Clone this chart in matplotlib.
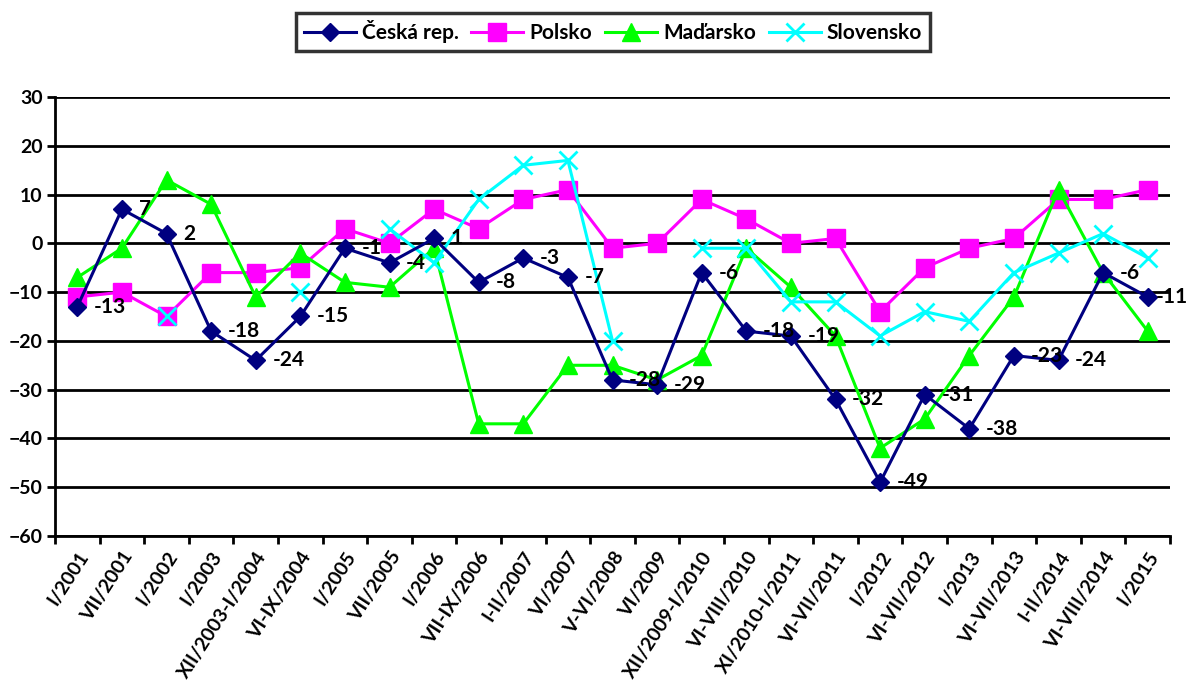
import numpy as np
import matplotlib
matplotlib.use("Agg")
import matplotlib.pyplot as plt
from matplotlib.ticker import FixedLocator

plt.rcParams['font.family'] = ['Lato', 'DejaVu Sans']

categories = ["I/2001", "VII/2001", "I/2002", "I/2003", "XII/2003-I/2004", "VI-IX/2004",
              "I/2005", "VII/2005", "I/2006", "VII-IX/2006", "I-II/2007", "VI/2007",
              "V-VI/2008", "VI/2009", "XII/2009-I/2010", "VI-VIII/2010", "XI/2010-I/2011",
              "VI-VII/2011", "I/2012", "VI-VII/2012", "I/2013", "VI-VII/2013",
              "I-II/2014", "VI-VIII/2014", "I/2015"]

cz = [-13, 7, 2, -18, -24, -15, -1, -4, 1, -8, -3, -7, -28, -29, -6, -18, -19,
      -32, -49, -31, -38, -23, -24, -6, -11]
pl = [-11, -10, -15, -6, -6, -5, 3, 0, 7, 3, 9, 11, -1, 0, 9, 5, 0,
      1, -14, -5, -1, 1, 9, 9, 11]
hu = [-7, -1, 13, 8, -11, -2, -8, -9, -1, -37, -37, -25, -25, -28, -23, -1, -9,
      -19, -42, -36, -23, -11, 11, -6, -18]
sk = [None, None, -15, None, None, -10, None, 3, -4, 9, 16, 17, -20, None, -1, -1, -12,
      -12, -19, -14, -16, -6, -2, 2, -3]

def arr(v):
    return np.array([np.nan if x is None else x for x in v], dtype=float)

fig = plt.figure(figsize=(11.9, 6.86), dpi=100)
ax = fig.add_axes([55/1190, 1 - 536/686, (1170 - 55)/1190, (536 - 97)/686])

x = np.arange(len(categories))
lw = 2.2
ax.plot(x, arr(cz), color='#000080', lw=lw, marker='D', ms=9.5, label='Česká rep.', zorder=6)
ax.plot(x, arr(pl), color='#FF00FF', lw=lw, marker='s', ms=12.5, label='Polsko', zorder=3)
ax.plot(x, arr(hu), color='#00FF00', lw=lw, marker='^', ms=13, label='Maďarsko', zorder=4)
ax.plot(x, arr(sk), color='#00FFFF', lw=lw, marker='x', ms=12.5, mew=2, label='Slovensko', zorder=5)

n = len(cz)
for i, (xi, v) in enumerate(zip(x, cz)):
    dx = 6 if i == n - 1 else 12
    ax.annotate(str(v), (xi, v), xytext=(dx, 0), textcoords='offset points',
                ha='left', va='center', fontsize=15, fontweight='bold', color='black',
                zorder=7, annotation_clip=False)

ax.set_xlim(-0.5, len(categories) - 0.5)
ax.set_ylim(-60, 30)
ax.set_yticks(np.arange(-60, 31, 10))
ax.yaxis.grid(True, color='black', lw=2)
ax.set_axisbelow(True)
for s in ['top', 'right']:
    ax.spines[s].set_visible(False)
ax.spines['left'].set_linewidth(2)
ax.spines['bottom'].set_linewidth(2)

ax.set_xticks(x)
ax.set_xticklabels(categories, rotation=57, ha='right', rotation_mode='anchor',
                   fontsize=14, fontweight='bold')
ax.tick_params(axis='x', which='major', length=0, pad=9)
ax.xaxis.set_minor_locator(FixedLocator(np.arange(-0.5, len(categories), 1)))
ax.tick_params(axis='x', which='minor', length=6, width=2, direction='out')
ax.tick_params(axis='y', length=6, width=2, direction='out', labelsize=14, pad=3)
for t in ax.get_yticklabels():
    t.set_fontweight('bold')

leg = fig.legend(loc='upper center', bbox_to_anchor=(613/1190, 1 - 13/686), ncol=4,
                 frameon=True, fancybox=False, edgecolor='black',
                 prop={'weight': 'bold', 'size': 15}, handlelength=2.5,
                 columnspacing=0.6, handletextpad=0.3, borderpad=0.35, borderaxespad=0)
leg.get_frame().set_linewidth(2.5)

fig.savefig('out.png', dpi=100)
